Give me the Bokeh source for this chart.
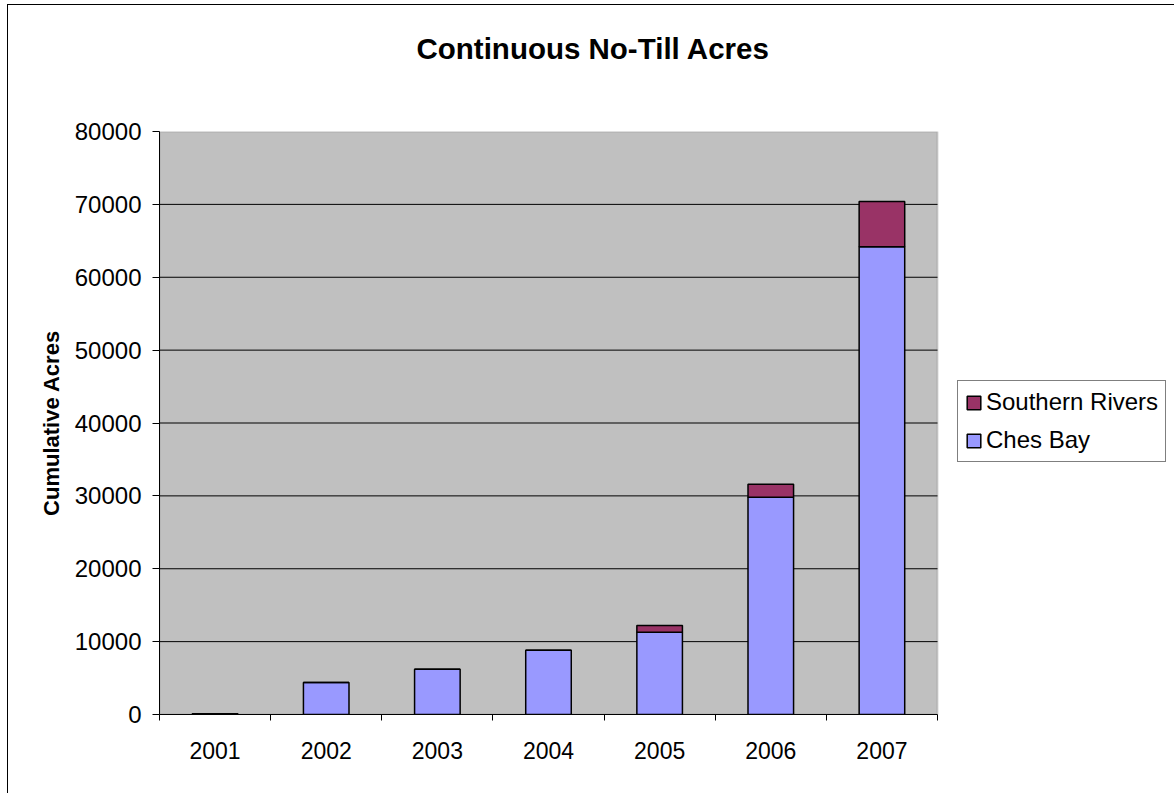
from bokeh.plotting import figure
from bokeh.models import (ColumnDataSource, FixedTicker, Legend, LegendItem, Title,
                          Range1d, NumeralTickFormatter, BoxAnnotation)
from bokeh.embed import file_html
from bokeh.resources import INLINE

# Cumulative continuous no-till acres by year and region
years = ["2001", "2002", "2003", "2004", "2005", "2006", "2007"]
ches_bay = [100, 4400, 6200, 8800, 11300, 29800, 64200]
southern_rivers = [0, 0, 0, 0, 900, 1800, 6200]
y_ticks = [0, 10000, 20000, 30000, 40000, 50000, 60000, 70000, 80000]

n = len(years)
xpos = [i + 0.5 for i in range(n)]
source = ColumnDataSource(dict(x=xpos, ches=ches_bay, sr=southern_rivers))

FONT = "Liberation Sans"

# The canvas frame runs to the right edge so the legend can sit beside the
# shaded plot area; the shaded area covers the seven year slots.
PLOT_W = 778
FRAME_W = 1167 - 151
x_end = n * FRAME_W / PLOT_W

p = figure(width=1167, height=789, output_backend="svg", toolbar_location=None,
           x_range=Range1d(0, x_end), y_range=Range1d(0, y_ticks[-1]),
           min_border_left=151, min_border_right=0, min_border_top=126,
           min_border_bottom=80)
p.styles = {"margin-left": "7px", "margin-top": "4px",
            "border-left": "1px solid #000000", "border-top": "1px solid #000000"}

p.background_fill_color = "white"
p.border_fill_color = "white"
p.outline_line_color = None
p.xgrid.visible = False
p.ygrid.visible = False

# Shaded plot area
area = BoxAnnotation(left=0, right=n, bottom=0, top=y_ticks[-1],
                     fill_color="#C0C0C0", fill_alpha=1,
                     line_color="#808080", line_width=2, level="underlay")
p.add_layout(area)

# Horizontal gridlines across the plot area
inner_ticks = y_ticks[1:-1]
p.segment(x0=[0] * len(inner_ticks), x1=[n] * len(inner_ticks),
          y0=inner_ticks, y1=inner_ticks, line_color="black", line_width=1)

renderers = p.vbar_stack(["ches", "sr"], x="x", width=0.41, source=source,
                         fill_color=["#9999FF", "#993366"], line_color="black",
                         line_width=1.5)

# Axes
xa = p.xaxis[0]
xa.bounds = (0, n)
xa.ticker = FixedTicker(ticks=xpos, minor_ticks=list(range(n + 1)))
xa.major_label_overrides = {x: y for x, y in zip(xpos, years)}
xa.major_tick_out = 0
xa.major_tick_in = 0
xa.minor_tick_out = 6
xa.minor_tick_in = 0
xa.minor_tick_line_color = "black"
xa.axis_line_color = "black"
xa.major_label_text_font = FONT
xa.major_label_text_font_size = "23px"
xa.major_label_text_color = "black"
xa.major_label_standoff = 21

ya = p.yaxis[0]
ya.ticker = FixedTicker(ticks=y_ticks)
ya.formatter = NumeralTickFormatter(format="0")
ya.minor_tick_out = 0
ya.minor_tick_in = 0
ya.major_tick_out = 7
ya.major_tick_in = 0
ya.major_tick_line_color = "black"
ya.axis_line_color = "black"
ya.major_label_text_font = FONT
ya.major_label_text_font_size = "24px"
ya.major_label_text_color = "black"
ya.major_label_standoff = 11
ya.axis_label = "Cumulative Acres"
ya.axis_label_text_font = FONT
ya.axis_label_text_font_style = "bold"
ya.axis_label_text_font_size = "22px"
ya.axis_label_text_color = "black"
ya.axis_label_standoff = 8

# Chart title; the two trailing blank lines hold it up near the top edge
title = Title(text="Continuous No-Till Acres\n \n ", text_font=FONT,
              text_font_style="bold", text_font_size="29.5px",
              text_line_height=0.98, text_color="black", align="left",
              offset=257, vertical_align="top", standoff=0)
p.add_layout(title, "above")

# Legend, Southern Rivers listed first
legend = Legend(items=[LegendItem(label="Southern Rivers", renderers=[renderers[1]]),
                       LegendItem(label="Ches Bay", renderers=[renderers[0]])],
                location=(798, 252), orientation="vertical")
legend.label_text_font = FONT
legend.label_text_font_size = "24px"
legend.label_text_color = "black"
legend.glyph_width = 17
legend.glyph_height = 17
legend.label_standoff = 4
legend.label_height = 26
legend.spacing = 10
legend.padding = 7
legend.margin = 0
legend.border_line_color = "black"
legend.border_line_width = 1
legend.background_fill_color = "white"
legend.background_fill_alpha = 1
p.add_layout(legend)

open("out.html", "w").write(file_html(p, INLINE))
